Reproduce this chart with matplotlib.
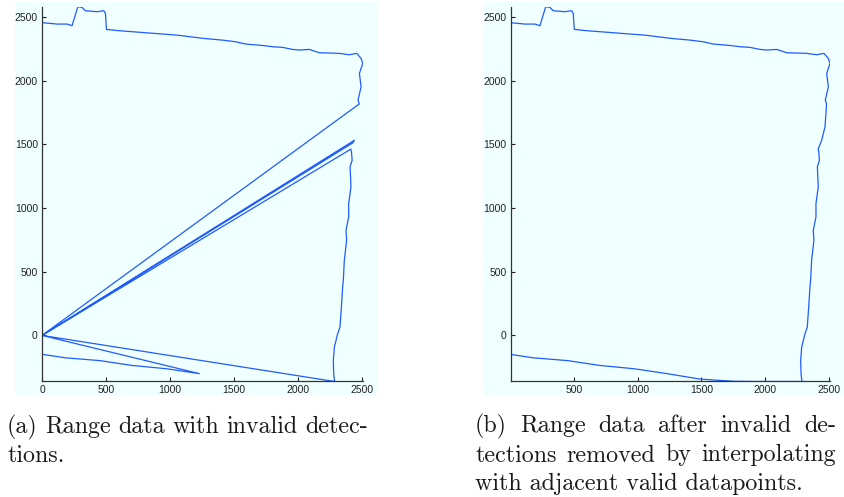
import matplotlib
matplotlib.use("Agg")
import matplotlib.pyplot as plt
from matplotlib.patches import Rectangle

# ---------------- data ----------------
# valid bottom wall (shared by both panels)
bottom_x = [5, 183, 453, 705, 975, 1230]
bottom_y = [-149, -176, -198, -236, -262, -300]
# bottom wall after interpolation (panel b only)
bottom_fill_x = [1489, 1750, 1907, 2288]
bottom_fill_y = [-343, -360, -362, -362]
# lower part of right wall (valid)
rlow_x = [2288, 2281, 2278, 2286, 2312, 2330, 2341, 2351, 2356, 2364, 2382, 2377,
          2386, 2398, 2398, 2416, 2409, 2425, 2420, 2415]
rlow_y = [-362, -301, -197, -92, 13, 65, 222, 380, 432, 590, 747, 825,
          870, 930, 1035, 1166, 1323, 1376, 1441, 1463]
# right wall section restored by interpolation (panel b only)
rfill_x = [2443, 2469]
rfill_y = [1533, 1638]
# upper part of right wall and top wall (valid)
top_x = [2481, 2471, 2495, 2482, 2508, 2495, 2461, 2403, 2325, 2168, 2090, 2011, 1959,
         1881, 1803, 1724, 1593, 1515, 1411, 1267, 1058, 875, 614, 504, 496, 483, 431,
         339, 313, 280, 235, 196, 118, 2]
top_y = [1818, 1847, 1952, 2057, 2136, 2175, 2215, 2204, 2215, 2220, 2246, 2241, 2246,
         2262, 2267, 2277, 2288, 2306, 2319, 2332, 2358, 2372, 2392, 2403, 2529, 2550, 2542,
         2550, 2576, 2581, 2432, 2445, 2445, 2456]
# invalid detections (panel a only)
origin_x, origin_y = [0], [0]
spike_x = [2442, 2430]
spike_y = [1532, 1512]

xticks_a = [0, 500, 1000, 1500, 2000, 2500]
xticks_b = [500, 1000, 1500, 2000, 2500]
yticks = [0, 500, 1000, 1500, 2000, 2500]

caption_a = ["(a) Range data with invalid detec-", "tions."]
caption_b = ["(b) Range data after invalid de-",
             "tections removed by interpolating",
             "with adjacent valid datapoints."]

# ---------------- build the traces ----------------
xa = (bottom_x + origin_x + rlow_x + origin_x + spike_x + origin_x + top_x)
ya = (bottom_y + origin_y + rlow_y + origin_y + spike_y + origin_y + top_y)
xb = bottom_x + bottom_fill_x + rlow_x[1:] + rfill_x + top_x
yb = bottom_y + bottom_fill_y + rlow_y[1:] + rfill_y + top_y

W, H = 844, 497
fig = plt.figure(figsize=(W / 100, H / 100), dpi=100, facecolor="white")

BG = "#f0ffff"
for (x0, x1) in [(15, 377), (483, 844)]:
    fig.patches.append(Rectangle((x0 / W, 1 - 395 / H), (x1 - x0) / W, (395 - 2) / H,
                                 transform=fig.transFigure, facecolor=BG,
                                 edgecolor="none", zorder=-5))

def mk_axes(left, right, top, bottom):
    ax = fig.add_axes([left / W, 1 - bottom / H, (right - left) / W, (bottom - top) / H])
    ax.set_zorder(2)
    return ax

line_col = "#1f5cff"
tick_font = {"family": ["Liberation Sans", "DejaVu Sans"], "size": 7.5}

ax1 = mk_axes(42, 363, 6.5, 381)
ax2 = mk_axes(510.6, 830, 6.5, 381)

for ax, x, y, xl, xt in [(ax1, xa, ya, (0, 2510), xticks_a), (ax2, xb, yb, (5, 2508), xticks_b)]:
    ax.patch.set_visible(False)
    ax.plot(x, y, color=line_col, lw=0.9, solid_joinstyle="round")
    ax.set_xlim(*xl)
    ax.set_ylim(-358, 2583)
    ax.set_xticks(xt)
    ax.set_yticks(yticks)
    ax.set_xticklabels([str(v) for v in xt], fontdict=tick_font)
    ax.set_yticklabels([str(v) for v in yticks], fontdict=tick_font)
    ax.tick_params(direction="in", length=3, width=0.8, colors="#222222", pad=3)
    ax.spines["top"].set_visible(False)
    ax.spines["right"].set_visible(False)
    for s in ("left", "bottom"):
        ax.spines[s].set_color("#333333")
        ax.spines[s].set_linewidth(0.9)

# ---------------- justified captions ----------------
cap_font = dict(family=["cmr10", "DejaVu Serif"], size=17.3, color="#1a1a1a")
fig.canvas.draw()
renderer = fig.canvas.get_renderer()

def word_width(w):
    t = fig.text(0, 0, w, **cap_font)
    bb = t.get_window_extent(renderer=renderer)
    t.remove()
    return bb.width

def caption(lines, x0, x1, baselines):
    for i, (line, yb_) in enumerate(zip(lines, baselines)):
        words = line.split(" ")
        last = (i == len(lines) - 1)
        if last or len(words) == 1:
            fig.text(x0 / W, 1 - yb_ / H, line, va="baseline", ha="left", **cap_font)
            continue
        widths = [word_width(w) for w in words]
        gap = (x1 - x0 - sum(widths)) / (len(words) - 1)
        x = x0
        for w, ww in zip(words, widths):
            fig.text(x / W, 1 - yb_ / H, w, va="baseline", ha="left", **cap_font)
            x += ww + gap

caption(caption_a, 7, 368, [433, 462])
caption(caption_b, 475, 836, [432, 461.5, 490])

fig.savefig("out.png", dpi=100, facecolor="white")
